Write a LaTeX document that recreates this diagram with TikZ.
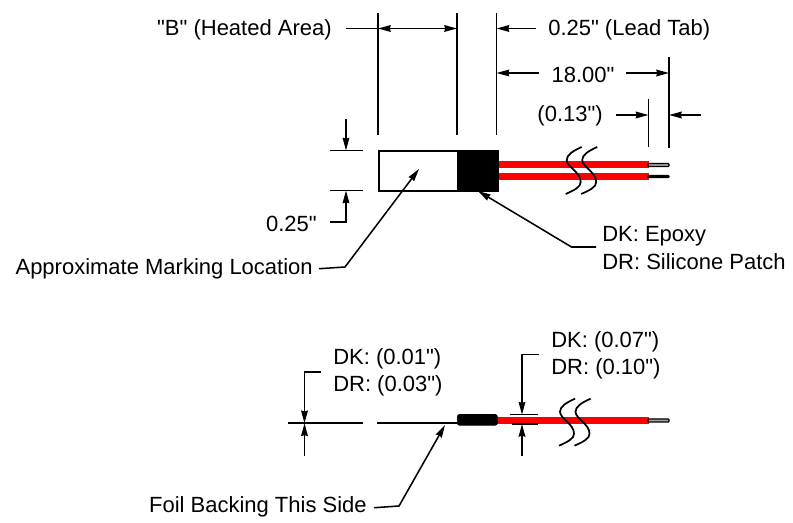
\documentclass[tikz,border=0pt]{standalone}
\usepackage{fontspec}
\setmainfont{Liberation Sans}[Ligatures=TeXOff]
\usetikzlibrary{arrows.meta}
\tikzset{
	dimline/.style={line width=1.15pt,black},
	dimarrow/.style={dimline,-{Stealth[length=9.5pt,width=5pt,inset=0.6pt]}},
	label/.style={inner sep=0pt,yshift=-1.3pt,font=\fontsize{16.5}{19}\selectfont},
	wire/.style={red},
	lead/.style={draw=black,fill=black!35,line width=0.9pt,rounded corners=0.5pt},
	breakline/.style={line width=1.3pt,black}
}
\newcommand{\wirebreak}[1]{%
	\foreach \off in {0,15.5} {
		\draw[breakline,shift={(#1)},xshift=\off*0.75pt] (15,-13) .. controls (6,-9) and (0,-5) .. (0,0)
			.. controls (0,7) and (14,12) .. (14,22) .. controls (14,27) and (8,30) .. (-1,34);
	}
}
\begin{document}
\begin{tikzpicture}[x=0.75pt,y=-0.75pt]
\useasboundingbox (0,0) rectangle (793,523);
\fill[white] (0,0) rectangle (793,523);

% top view
\fill[wire] (497,161.5) rectangle (649,168.5);
\fill[wire] (497,173) rectangle (649,180);
\draw[lead] (648,163.5) rectangle (669,166.5);
\draw[lead,fill=black] (648,175.5) rectangle (669,177.5);
\wirebreak{566.7,160}
\node[draw=black,line width=1.15pt,minimum width=59.25pt,minimum height=30pt,inner sep=0pt,anchor=north west] (patch) at (378,150.5) {};
\node[draw=black,fill=black,line width=1.15pt,minimum width=30pt,minimum height=30pt,inner sep=0pt,anchor=north west] (epoxy) at (457,150.5) {};

\coordinate (heatedL) at (378,13);
\coordinate (heatedLb) at (378,135);
\coordinate (heatedR) at (457,13);
\coordinate (heatedRb) at (457,135);
\coordinate (tabR) at (496.5,13);
\coordinate (tabRb) at (496.5,135);
\coordinate (leadEnd) at (669,57);
\coordinate (leadEndb) at (669,148);
\coordinate (stripEnd) at (648.5,99);
\coordinate (stripEndb) at (648.5,147);
\draw[dimline] (heatedL) -- (heatedLb);
\draw[dimline] (heatedR) -- (heatedRb);
\draw[dimline] (tabR) -- (tabRb);
\draw[dimline] (leadEnd) -- (leadEndb);
\draw[dimline] (stripEnd) -- (stripEndb);

\node[label,anchor=east] (heated) at (332,28) {"B" (Heated Area)};
\node[label,anchor=west] (leadtab) at (548,28) {0.25" (Lead Tab)};
\node[label] (leadlen) at (583,73) {18.00"};
\node[label,anchor=east] (strip) at (603,114) {(0.13")};
\node[label,anchor=east] (width) at (317,222) {0.25"};
\node[label,anchor=east] (marking) at (313,267) {Approximate Marking Location};
\node[label,anchor=west] (dkepoxy) at (602,234) {DK: Epoxy};
\node[label,anchor=west] (drpatch) at (602,260) {DR: Silicone Patch};

\coordinate (heatedTail) at (346,28.5);
\coordinate (heatedMid) at (417,28.5);
\coordinate (tabTail) at (535.5,28.5);
\coordinate (lenTailL) at (539,73);
\coordinate (lenTailR) at (626,73);
\coordinate (stripTailL) at (616,115);
\coordinate (stripTailR) at (701,115);
\draw[dimline] (heatedTail) -- (heatedL |- heatedTail);
\draw[dimarrow] (heatedMid) -- (heatedL |- heatedMid);
\draw[dimarrow] (heatedMid) -- (heatedR |- heatedMid);
\draw[dimarrow] (tabTail) -- (tabR |- tabTail);
\draw[dimarrow] (lenTailL) -- (tabR |- lenTailL);
\draw[dimarrow] (lenTailR) -- (leadEnd |- lenTailR);
\draw[dimarrow] (stripTailL) -- (stripEnd |- stripTailL);
\draw[dimarrow] (stripTailR) -- (leadEnd |- stripTailR);

\coordinate (topTickL) at (330,150.5);
\coordinate (topTickR) at (363,150.5);
\coordinate (botTickL) at (330,190.5);
\coordinate (botTickR) at (363,190.5);
\coordinate (widthTop) at (346,119);
\coordinate (widthBot) at (346,222);
\draw[dimline] (topTickL) -- (topTickR);
\draw[dimline] (botTickL) -- (botTickR);
\draw[dimarrow] (widthTop) -- (widthTop |- topTickL);
\draw[dimarrow] (330,222) -- (widthBot) -- (widthBot |- botTickL);

\coordinate (markingTip) at (419,169);
\coordinate (markingBend) at (345,267);
\coordinate (epoxyTip) at (478,191);
\coordinate (epoxyBend) at (571.5,247);
\coordinate (epoxyTail) at (596,247);
\draw[dimarrow] (marking.east) ++(6,0) -- (markingBend) -- (markingTip);
\draw[dimarrow] (epoxyTail) -- (epoxyBend) -- (epoxyTip);

% side view
\coordinate (foilL) at (288,423.3);
\coordinate (foilLe) at (363,423.3);
\coordinate (foilR) at (377,423.3);
\coordinate (foilRe) at (457,423.3);
\draw[line width=1.6pt] (foilL) -- (foilLe);
\draw[line width=1.6pt] (foilR) -- (foilRe);
\fill[wire] (497,417) rectangle (649,424);
\draw[lead] (648,419) rectangle (669,422);
\node[draw=black,fill=black,rounded corners=1.5pt,line width=0.5pt,minimum width=30pt,minimum height=8pt,inner sep=0pt,anchor=north west] (sidepatch) at (457,414.2) {};
\wirebreak{560,411.7}

\node[label,anchor=west] (dkfoil) at (333,357) {DK: (0.01")};
\node[label,anchor=west] (drfoil) at (333,384) {DR: (0.03")};
\node[label,anchor=west] (dkwire) at (551,340) {DK: (0.07")};
\node[label,anchor=west] (drwire) at (551,367) {DR: (0.10")};
\node[label,anchor=east] (backing) at (367,505) {Foil Backing This Side};

\coordinate (foilDim) at (304.5,372);
\coordinate (wireDim) at (522,354.7);
\coordinate (wireTopA) at (509.5,414.7);
\coordinate (wireTopB) at (538,414.7);
\coordinate (wireBotA) at (511.5,424);
\coordinate (wireBotB) at (538,424);
\draw[dimline] (wireTopA) -- (wireTopB);
\draw[dimline] (wireBotA) -- (wireBotB);
\draw[dimarrow] (321,372) -- (foilDim) -- (foilDim |- foilL);
\draw[dimarrow] (304.5,456) -- (foilDim |- foilL);
\draw[dimarrow] (538.5,354.7) -- (wireDim) -- (wireDim |- wireTopA);
\draw[dimarrow] (522,456) -- (wireDim |- wireBotA);

\coordinate (backingTip) at (445,425);
\coordinate (backingBend) at (399,506);
\draw[dimarrow] (backing.east) ++(7,1) -- (backingBend) -- (backingTip);
\end{tikzpicture}
\end{document}
